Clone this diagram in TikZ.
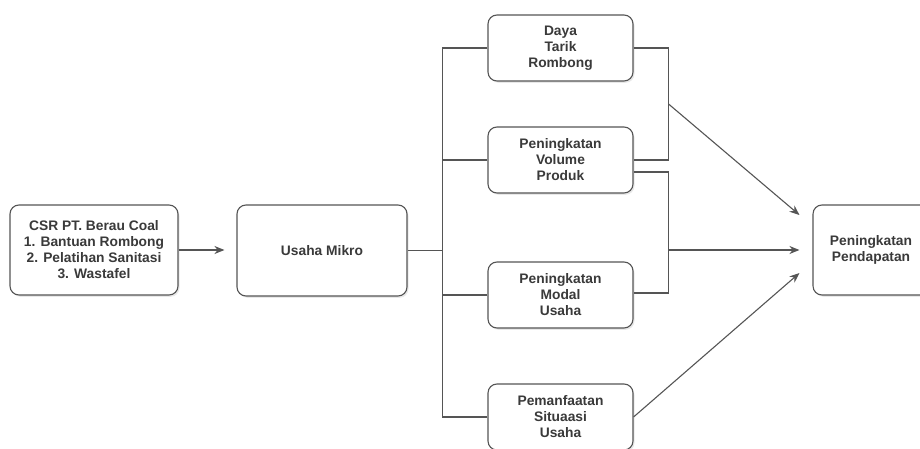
\documentclass[tikz,border=0pt]{standalone}
\usepackage{fontspec}
\setmainfont{Liberation Sans}
\usetikzlibrary{arrows.meta,calc,shadows}
\definecolor{linec}{HTML}{555555}
\definecolor{textc}{HTML}{3A3A3A}
\tikzset{
  box/.style={draw=linec, line width=1.1pt, rounded corners=9pt, fill=white,
    align=center, inner sep=0pt, text=textc,
    font=\bfseries\fontsize{13.8}{16}\selectfont,
    drop shadow={opacity=0.18, shadow xshift=1.5pt, shadow yshift=-1.8pt}},
  conn/.style={draw=linec, line width=1.1pt},
  arr/.style={conn, -{Stealth[length=10pt,width=8pt]}},
}
\begin{document}
\begin{tikzpicture}[x=1pt,y=-1pt]
\clip (0,0) rectangle (920,449);
\fill[white] (0,0) rectangle (920,449);

\node[box, minimum width=168pt, minimum height=90pt] (csr) at (94,250)
  {CSR PT. Berau Coal\\1. Bantuan Rombong\\2. Pelatihan Sanitasi\\3. Wastafel};
\node[box, minimum width=170pt, minimum height=91pt] (um) at (322,250.5) {Usaha Mikro};
\node[box, minimum width=145pt, minimum height=66pt] (d1) at (560.5,48) {Daya\\Tarik\\Rombong};
\node[box, minimum width=145pt, minimum height=66pt] (d2) at (560.5,160) {Peningkatan\\Volume\\Produk};
\node[box, minimum width=145pt, minimum height=66pt] (d3) at (560.5,295) {Peningkatan\\Modal\\Usaha};
\node[box, minimum width=145pt, minimum height=66pt] (d4) at (560.5,417) {Pemanfaatan\\Situaasi\\Usaha};
\node[box, minimum width=116pt, minimum height=90pt] (pp) at (871,250) {Peningkatan\\Pendapatan};

% left arrow
\draw[arr, shorten >=12pt] (csr.east) -- (um.west |- csr.east);

% trunk
\coordinate (tr) at ($(um.east)+(35,0)$);
\draw[conn] (um.east) -- (tr);
\draw[conn] (d1.west) -| (tr);
\draw[conn] (d4.west) -| (tr);
\draw[conn] (d2.west) -- (d2.west -| tr);
\draw[conn] (d3.west) -- (d3.west -| tr);

% right brackets
\coordinate (r1) at ($(d1.east)+(35,0)$);
\draw[conn] (d1.east) -- (r1) |- (d2.east);
\coordinate (j1) at ($(r1)!0.5!(r1 |- d2.east)$);
\coordinate (d2low) at ($(d2.east)+(0,12)$);
\coordinate (r2) at ($(d2low)+(35,0)$);
\draw[conn] (d2low) -- (r2) |- ($(d3.east)+(0,-2)$);
\coordinate (j2) at (r2 |- pp.west);

% arrows to Pendapatan
\draw[arr] (j1) -- ($(pp.west)+(-13,-35)$);
\draw[arr, shorten >=13pt] (j2) -- (pp.west);
\draw[arr] (d4.east) -- ($(pp.west)+(-13,23)$);
\end{tikzpicture}
\end{document}
